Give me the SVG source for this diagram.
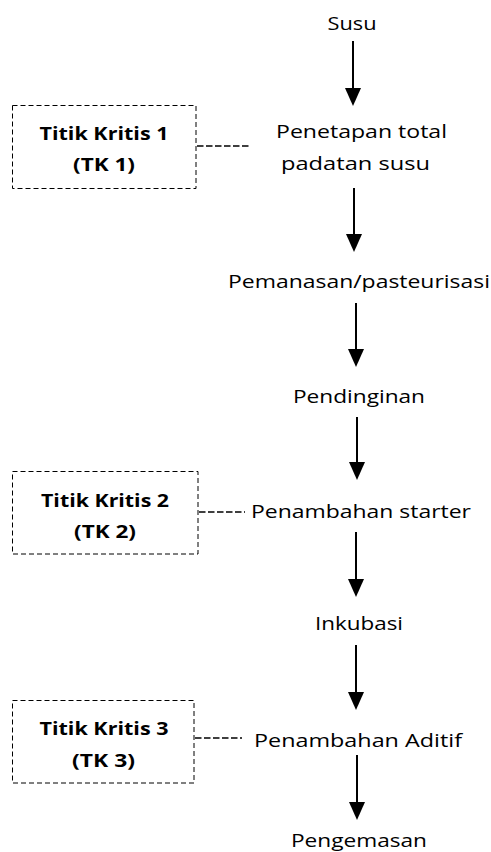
<svg xmlns="http://www.w3.org/2000/svg" width="491" height="852" viewBox="0 0 491 852">
<style>
.t{font-family:"Open Sans","Liberation Sans",sans-serif;font-size:18px;fill:#000;text-anchor:middle}
.b{font-weight:bold}
.box{fill:none;stroke:#000;stroke-width:1;stroke-dasharray:5 3}
.dash{stroke:#000;stroke-width:1.6;stroke-dasharray:6.5 2.5}
.arr{stroke:#000;stroke-width:2;marker-end:url(#ah)}
</style>
<defs>
<marker id="ah" markerUnits="userSpaceOnUse" markerWidth="18" markerHeight="16" refX="14" refY="8" orient="auto">
<path d="M0,0 L18,8 L0,16 z" fill="#000"/>
</marker>
</defs>
<rect width="491" height="852" fill="#fff"/>
<g id="connectors">
<line class="arr" x1="353" y1="41" x2="353" y2="102"/>
<line class="arr" x1="354" y1="188" x2="354" y2="248"/>
<line class="arr" x1="356" y1="303" x2="356" y2="363"/>
<line class="arr" x1="357" y1="417" x2="357" y2="476"/>
<line class="arr" x1="356" y1="532" x2="356" y2="593"/>
<line class="arr" x1="356" y1="645" x2="356" y2="706"/>
<line class="arr" x1="357" y1="755" x2="357" y2="816"/>
<line class="dash" x1="197" y1="146" x2="251" y2="146"/>
<line class="dash" x1="199" y1="512" x2="245" y2="512"/>
<line class="dash" x1="195" y1="738" x2="242" y2="738"/>
</g>
<g id="n-susu"><text class="t" x="352" y="30" textLength="49" lengthAdjust="spacingAndGlyphs">Susu</text></g>
<g id="n-penetapan">
<text class="t" x="361.5" y="138" textLength="171" lengthAdjust="spacingAndGlyphs">Penetapan total</text>
<text class="t" x="355.5" y="170" textLength="149" lengthAdjust="spacingAndGlyphs">padatan susu</text>
</g>
<g id="n-pemanasan"><text class="t" x="359" y="288" textLength="262" lengthAdjust="spacingAndGlyphs">Pemanasan/pasteurisasi</text></g>
<g id="n-pendinginan"><text class="t" x="359" y="403" textLength="132" lengthAdjust="spacingAndGlyphs">Pendinginan</text></g>
<g id="n-starter"><text class="t" x="361" y="518" textLength="220" lengthAdjust="spacingAndGlyphs">Penambahan starter</text></g>
<g id="n-inkubasi"><text class="t" x="359" y="630" textLength="88" lengthAdjust="spacingAndGlyphs">Inkubasi</text></g>
<g id="n-aditif"><text class="t" x="358" y="747" textLength="208" lengthAdjust="spacingAndGlyphs">Penambahan Aditif</text></g>
<g id="n-pengemasan"><text class="t" x="359" y="847" textLength="136" lengthAdjust="spacingAndGlyphs">Pengemasan</text></g>
<g id="tk1">
<rect class="box" x="12.5" y="105.5" width="183.5" height="83"/>
<text class="t b" x="104" y="140" textLength="129" lengthAdjust="spacingAndGlyphs">Titik Kritis 1</text>
<text class="t b" x="104" y="171" textLength="62" lengthAdjust="spacingAndGlyphs">(TK 1)</text>
</g>
<g id="tk2">
<rect class="box" x="12.5" y="471.5" width="185.5" height="82.5"/>
<text class="t b" x="105" y="507" textLength="128" lengthAdjust="spacingAndGlyphs">Titik Kritis 2</text>
<text class="t b" x="105" y="538" textLength="62" lengthAdjust="spacingAndGlyphs">(TK 2)</text>
</g>
<g id="tk3">
<rect class="box" x="12.5" y="700.5" width="181.5" height="82.5"/>
<text class="t b" x="104" y="735" textLength="129" lengthAdjust="spacingAndGlyphs">Titik Kritis 3</text>
<text class="t b" x="103.5" y="767" textLength="63" lengthAdjust="spacingAndGlyphs">(TK 3)</text>
</g>
</svg>
